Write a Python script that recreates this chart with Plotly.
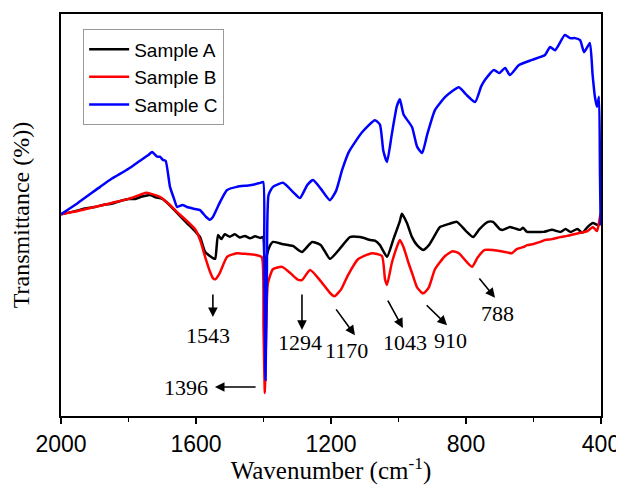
import plotly.graph_objects as go

# ---------------- data ----------------
wn_a = [2000, 1960, 1930, 1900, 1870, 1850, 1820, 1800, 1780, 1760, 1736, 1720, 1700, 1680,
        1656, 1627, 1603, 1588, 1573, 1559, 1550, 1543, 1535, 1525, 1515, 1500, 1485, 1470,
        1455, 1440, 1425, 1410, 1402, 1396, 1390, 1380, 1372, 1345, 1313, 1286, 1256, 1230,
        1203, 1170, 1144, 1114, 1084, 1070, 1055, 1034, 1015, 996, 990, 975, 960, 945, 927,
        910, 892, 877, 850, 827, 800, 779, 760, 735, 720, 700, 690, 670, 660, 640, 631, 619,
        600, 570, 545, 520, 505, 490, 470, 455, 440, 424, 410, 400]
t_a = [50.2, 50.9, 51.6, 52.0, 52.6, 52.8, 53.6, 54.0, 54.0, 54.6, 55.0, 54.4, 54.0, 52.6,
       50.5, 48.0, 46.0, 44.5, 40.8, 39.8, 39.3, 39.1, 45.0, 44.0, 45.2, 44.6, 45.2, 44.4,
       44.8, 44.2, 44.7, 44.3, 44.5, 12.0, 40.0, 42.5, 43.3, 42.8, 42.3, 40.8, 43.3, 42.5,
       39.1, 42.0, 44.5, 44.5, 43.8, 43.6, 42.5, 39.6, 44.0, 48.5, 50.3, 48.0, 44.5, 42.5,
       41.3, 42.5, 45.0, 47.0, 47.8, 48.3, 46.0, 44.5, 46.5, 48.3, 48.3, 46.5, 46.3, 47.0,
       46.8, 46.3, 46.8, 45.8, 45.8, 45.8, 46.3, 45.8, 46.5, 45.8, 46.5, 45.6, 47.0, 48.0,
       47.5, 47.8]

wn_b = [2000, 1950, 1900, 1850, 1800, 1766, 1751, 1730, 1707, 1677, 1656, 1627, 1603, 1588,
        1573, 1559, 1550, 1543, 1530, 1508, 1479, 1450, 1420, 1405, 1400, 1396, 1392, 1387,
        1372, 1345, 1321, 1300, 1286, 1262, 1230, 1203, 1190, 1170, 1150, 1120, 1079, 1049,
        1040, 1034, 1020, 1005, 996, 985, 970, 960, 945, 930, 924, 910, 892, 862, 840, 821,
        800, 782, 765, 744, 720, 684, 664, 650, 631, 619, 600, 580, 566, 545, 521, 500, 480,
        465, 440, 424, 412, 406, 402, 400]
t_b = [50.2, 51.0, 52.0, 53.0, 54.0, 55.0, 55.5, 55.2, 54.5, 52.5, 50.7, 48.5, 46.5, 43.8,
       39.6, 36.0, 34.3, 34.0, 35.5, 39.6, 40.5, 40.3, 40.0, 39.5, 22.0, 5.7, 22.0, 33.0,
       36.5, 37.1, 35.6, 34.0, 33.8, 36.3, 33.5, 30.6, 29.8, 31.5, 35.0, 39.0, 40.5, 39.8,
       34.0, 32.6, 38.0, 42.0, 43.8, 42.0, 38.0, 35.6, 32.0, 30.6, 30.6, 32.0, 36.5, 39.8,
       41.0, 40.5, 38.5, 37.1, 39.5, 41.3, 41.3, 40.8, 40.5, 41.5, 42.0, 42.5, 42.8, 43.3,
       43.8, 44.0, 44.5, 44.8, 45.2, 45.5, 46.0, 47.0, 46.0, 48.0, 50.0, 50.5]

wn_c = [2000, 1950, 1884, 1850, 1800, 1766, 1740, 1730, 1715, 1707, 1698, 1690, 1677, 1665,
        1656, 1640, 1627, 1603, 1588, 1570, 1559, 1550, 1530, 1508, 1479, 1450, 1431, 1410,
        1401, 1398, 1394, 1390, 1385, 1372, 1342, 1310, 1292, 1270, 1253, 1230, 1203, 1185,
        1167, 1147, 1108, 1070, 1055, 1045, 1034, 1020, 1005, 996, 985, 960, 945, 930, 915,
        892, 860, 821, 800, 773, 755, 744, 717, 702, 684, 670, 643, 604, 566, 551, 536, 507,
        492, 477, 462, 450, 433, 425, 418, 412, 406, 403, 401]
t_c = [50.2, 53.0, 57.0, 59.0, 61.5, 63.5, 65.0, 65.7, 64.5, 64.5, 63.7, 63.5, 57.0, 54.0,
       52.0, 52.5, 52.0, 51.5, 51.2, 49.5, 48.8, 49.5, 53.0, 56.2, 57.0, 57.3, 57.5, 58.0,
       58.2, 40.0, 9.0, 35.0, 55.0, 57.0, 58.0, 55.5, 54.2, 57.5, 58.7, 56.5, 53.7, 56.0,
       61.2, 65.7, 70.6, 73.6, 72.5, 66.0, 63.2, 70.0, 77.0, 78.8, 75.0, 71.9, 67.0, 65.4,
       70.0, 76.1, 79.5, 81.8, 80.0, 78.1, 82.0, 83.6, 86.1, 85.3, 86.6, 84.8, 87.3, 88.6,
       89.8, 91.8, 91.0, 94.8, 94.0, 94.0, 93.5, 90.5, 92.8, 85.0, 79.4, 76.9, 79.4, 60.0,
       47.5]

series_names = ["Sample A", "Sample B", "Sample C"]
series_colors = ["#000000", "#FF0000", "#0000FF"]

# peak annotations: label, text position, arrow tail, arrow head (wavenumber, transmittance)
peak_labels = ["1543", "1396", "1294", "1170", "1043", "910", "788"]
label_wn = [1564, 1630, 1292, 1153, 981, 847, 708]
label_t = [20.1, 7.2, 18.2, 16.4, 18.4, 18.9, 25.6]
tail_wn = [1550, 1419, 1286, 1188, 1034, 921, 764]
tail_t = [30.6, 7.2, 30.6, 26.9, 29.1, 27.9, 34.6]
head_wn = [1550, 1544, 1286, 1129, 987, 856, 714]
head_t = [24.6, 7.2, 21.4, 20.1, 21.9, 22.6, 29.4]

x_ticks = [2000, 1600, 1200, 800, 400]

# ---------------- figure ----------------
fig = go.Figure()
for wn, t, name, col in zip([wn_a, wn_b, wn_c], [t_a, t_b, t_c], series_names, series_colors):
    fig.add_trace(go.Scatter(x=wn, y=t, mode="lines", name=name,
                             line=dict(color=col, width=2.5, shape="spline", smoothing=0.5)))

serif = "Liberation Serif, Times New Roman, serif"
sans = "Liberation Sans, Arial, sans-serif"

for lab, lx, ly, tx, ty, hx, hy in zip(peak_labels, label_wn, label_t, tail_wn, tail_t, head_wn, head_t):
    fig.add_annotation(x=hx, y=hy, ax=tx, ay=ty, xref="x", yref="y", axref="x", ayref="y",
                       text="", showarrow=True, arrowhead=2, arrowsize=1.2, arrowwidth=1.6,
                       arrowcolor="#000000")
    fig.add_annotation(x=lx, y=ly, xref="x", yref="y", text=lab, showarrow=False,
                       font=dict(family=serif, size=22, color="#000000"))

# the page body has an 8 px default margin (left/top), so the figure is 8 px smaller
fig.update_layout(
    width=616, height=477,
    margin=dict(l=53, r=23, t=6, b=69),
    paper_bgcolor="white", plot_bgcolor="white",
    showlegend=True,
    legend=dict(x=0.041, y=0.962, xanchor="left", yanchor="top",
                bgcolor="white", bordercolor="#999999", borderwidth=1,
                font=dict(family=sans, size=19, color="#000000"),
                tracegroupgap=0, itemwidth=40),
    xaxis=dict(range=[2000, 400], autorange=False,
               tickvals=x_ticks, ticktext=[str(v) for v in x_ticks],
               ticks="outside", ticklen=6, tickwidth=1.5, tickcolor="#000000",
               minor=dict(dtick=200, tick0=0, ticks="outside", ticklen=4, tickwidth=1.2,
                          tickcolor="#000000"),
               showline=True, linecolor="#000000", linewidth=1.8, mirror=True,
               showgrid=False, zeroline=False,
               tickfont=dict(family=sans, size=23, color="#000000"),
               title=dict(text="Wavenumber (cm<sup>-1</sup>)",
                          font=dict(family=serif, size=25, color="#000000"), standoff=4),
               automargin=False),
    yaxis=dict(range=[0, 100], autorange=False,
               showticklabels=False, ticks="",
               showline=True, linecolor="#000000", linewidth=1.8, mirror=True,
               showgrid=False, zeroline=False,
               title=dict(text="Transmittance (%))",
                          font=dict(family=serif, size=24, color="#000000"), standoff=24),
               automargin=False),
)

fig.write_html("out.html")
